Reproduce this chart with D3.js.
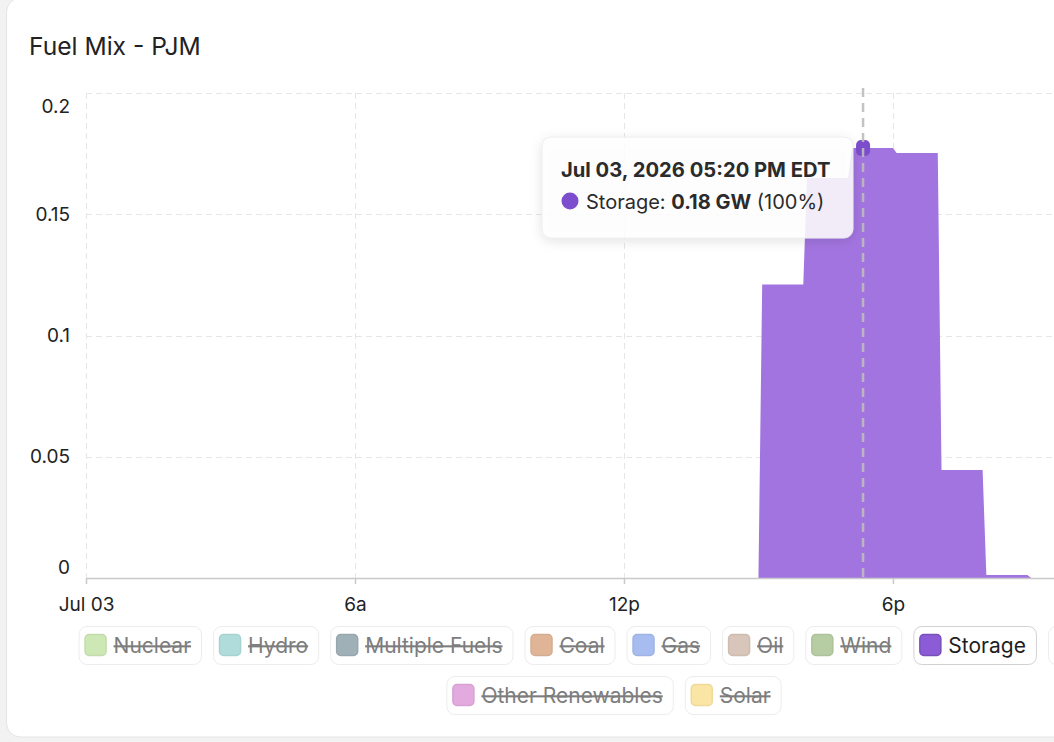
<!DOCTYPE html>
<html><head><meta charset="utf-8">
<script src="https://cdn.jsdelivr.net/npm/d3@7"></script>
<style>
html,body{margin:0;padding:0;background:#f2f2f3;overflow:hidden;width:1054px;height:742px;}
svg{display:block;font-family:Inter,"Noto Sans",sans-serif;}
</style></head><body>
<svg id="c" width="1054" height="742"></svg>
<script>
// ---- data ----
const chartTitle = "Fuel Mix - PJM";
const hours      = [0,1,2,3,4,5,6,7,8,9,10,11,12,13,14,15,16,17,18,19,20,21];
const storageGW  = [0,0,0,0,0,0,0,0,0,0,0,0,0,0,0,0.121,0.165,0.1773,0.1753,0.0445,0.0012,0];
const stepOffsetMin = 5;
const xTickHours  = [0,6,12,18];
const xTickLabels = ["Jul 03","6a","12p","6p"];
const yTickValues = [0,0.05,0.1,0.15,0.2];
const yTickLabels = ["0","0.05","0.1","0.15","0.2"];
const legendNames  = ["Nuclear","Hydro","Multiple Fuels","Coal","Gas","Oil","Wind","Storage","Other","Other Renewables","Solar"];
const legendColors = ["#cde8b4","#b1dcdc","#9fb0b7","#e0b597","#a7bdf0","#d9c6bb","#b6cda4","#8b5cd6","#cfcfcf","#e2aadf","#fbe5a4"];
const legendActive = [false,false,false,false,false,false,false,true,false,false,false];
const legendRowBreak = 9;
const hoverHour = 17 + 20/60;
const hoverLabel = "Jul 03, 2026 05:20 PM EDT";
const seriesName = "Storage";
const areaColor = "#a274e0";
const seriesColor = "#7c4dcc";

// ---- layout ----
const svg = d3.select("#c");
const X0 = 86, Y0 = 578, YTOP = 93;
const x = d3.scaleLinear().domain([0,24]).range([X0, X0 + 24*44.83]);
const y = d3.scaleLinear().domain([0,0.2]).range([Y0, YTOP]);

// card
svg.append("rect").attr("x",6.5).attr("y",-2).attr("width",1240).attr("height",739)
  .attr("rx",14).attr("fill","#fff").attr("stroke","#e4e4e6");

svg.append("text").attr("x",29).attr("y",55).attr("font-size",24.6).attr("fill","#222")
  .text(chartTitle);

// grid
const grid = svg.append("g").attr("stroke","#e6e6e6").attr("stroke-dasharray","6,4").attr("stroke-width",1);
grid.selectAll(".h").data(yTickValues.filter(v=>v>0)).join("line")
  .attr("x1",X0).attr("x2",1260).attr("y1",d=>Math.round(y(d))+0.5).attr("y2",d=>Math.round(y(d))+0.5);
grid.selectAll(".v").data(xTickHours).join("line")
  .attr("x1",d=>Math.round(x(d))+0.5).attr("x2",d=>Math.round(x(d))+0.5).attr("y1",YTOP).attr("y2",Y0);

// area
const pts = [];
hours.forEach((h,i)=>{ pts.push([h + stepOffsetMin/60, storageGW[i]]); pts.push([h+1, storageGW[i]]); });
const area = d3.area().x(d=>x(d[0])).y0(y(0)).y1(d=>y(d[1]));
svg.append("path").datum(pts).attr("d",area).attr("fill",areaColor);

// x axis
const xAxis = d3.axisBottom(x).tickValues(xTickHours).tickFormat((d,i)=>xTickLabels[i]).tickSize(6).tickPadding(14).tickSizeOuter(0);
const gx = svg.append("g").attr("transform",`translate(0,${Y0})`).call(xAxis);
gx.select(".domain").attr("stroke","#c9c9c9").attr("stroke-width",1.5);
gx.selectAll(".tick line").attr("stroke","#c9c9c9").attr("stroke-width",1.5);
gx.selectAll(".tick text").attr("font-size",19).attr("fill","#222").attr("font-family","Inter,'Noto Sans',sans-serif");

// y axis labels
const yAxis = d3.axisLeft(y).tickValues(yTickValues).tickFormat((d,i)=>yTickLabels[i]).tickSize(0).tickPadding(16);
const gy = svg.append("g").attr("transform",`translate(${X0},0)`).call(yAxis);
gy.select(".domain").remove();
gy.selectAll(".tick text").attr("font-size",19).attr("fill","#222").attr("font-family","Inter,'Noto Sans',sans-serif")
  .attr("dy",d=> d===0.2 ? "1.05em" : d===0 ? "-0.25em" : "0.32em");

// hover marker + line
const hi = hours.indexOf(Math.floor(hoverHour));
const hv = storageGW[hi];
const hx = x(hoverHour), hy = y(hv);
svg.append("rect").attr("x",hx-7).attr("y",hy-8).attr("width",14).attr("height",16).attr("rx",5)
  .attr("fill",seriesColor);
svg.append("line").attr("x1",hx).attr("x2",hx).attr("y1",88).attr("y2",Y0)
  .attr("stroke","#bdbdbd").attr("stroke-width",2.5).attr("stroke-dasharray","9,6").attr("opacity",0.9);

// tooltip
const defs = svg.append("defs");
const f = defs.append("filter").attr("id","sh").attr("x","-20%").attr("y","-30%").attr("width","140%").attr("height","170%");
f.append("feDropShadow").attr("dx",0).attr("dy",3).attr("stdDeviation",6).attr("flood-color","#000").attr("flood-opacity",0.12);
const tt = svg.append("g").attr("transform","translate(542,137)");
tt.append("rect").attr("width",311).attr("height",101).attr("rx",9).attr("fill","#fff").attr("fill-opacity",0.86)
  .attr("stroke","#ececec").attr("filter","url(#sh)");
tt.append("text").attr("x",19).attr("y",40).attr("font-size",20.2).attr("font-weight",700).attr("fill","#2b2b2b").text(hoverLabel);
tt.append("circle").attr("cx",28).attr("cy",64).attr("r",8.5).attr("fill",seriesColor);
const total = hv;
const t2 = tt.append("text").attr("x",44).attr("y",72).attr("font-size",20).attr("fill","#2b2b2b");
t2.append("tspan").text(seriesName + ": ");
t2.append("tspan").attr("font-weight",700).text(d3.format(".2f")(hv) + " GW");
t2.append("tspan").text(" (" + d3.format(".0%")(hv/total) + ")");

// legend
const lg = svg.append("g");
const rows = [legendNames.slice(0,legendRowBreak).map((n,i)=>i), legendNames.slice(legendRowBreak).map((n,i)=>i+legendRowBreak)];
const centerX = 614, gap = 11, itemH = 38, fs = 21;
rows.forEach((row,ri)=>{
  const tmp = lg.append("g");
  const widths = row.map(i=>{
    const t = tmp.append("text").attr("font-size",fs).text(legendNames[i]);
    const w = t.node().getComputedTextLength(); t.remove();
    return 35 + w + 11;
  });
  tmp.remove();
  const total = d3.sum(widths) + gap*(row.length-1);
  let cx = centerX - total/2;
  const yy = 626 + ri*50;
  row.forEach((i,k)=>{
    const w = widths[k];
    if (cx > 1054) { cx += w + gap; return; }
    const g = lg.append("g").attr("transform",`translate(${cx},${yy})`);
    const act = legendActive[i];
    g.append("rect").attr("x",0.5).attr("y",0.5).attr("width",w-1).attr("height",itemH).attr("rx",8)
      .attr("fill","#fff").attr("stroke",act?"#d2d2d2":"#ececec");
    const c = d3.color(legendColors[i]);
    if (cx + 35 < 1054) {
      g.append("rect").attr("x",6.5).attr("y",8.5).attr("width",21).attr("height",21).attr("rx",4)
        .attr("fill",legendColors[i]).attr("stroke",c.darker(act?0.4:0.15)).attr("stroke-width",1.5);
      g.append("text").attr("x",35).attr("y",27).attr("font-size",fs)
        .attr("fill",act?"#1e1e1e":"#7d7d7d")
        .attr("text-decoration",act?null:"line-through").text(legendNames[i]);
    }
    cx += w + gap;
  });
});
</script>
</body></html>
